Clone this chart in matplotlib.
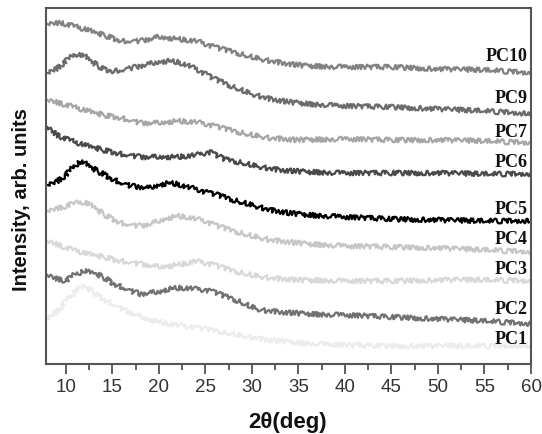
import numpy as np
import matplotlib
matplotlib.use("Agg")
import matplotlib.pyplot as plt
from matplotlib.ticker import MultipleLocator

# XRD patterns, values (arb. units, already stacked)
tth_pc10 = [8, 9.5, 12, 14, 16, 18, 20, 22, 24, 26, 28, 30, 32, 34, 36, 40, 45, 50, 55, 60]
int_pc10 = [340, 341, 335, 329, 323, 323, 327, 325, 323, 317, 312, 307, 303, 300, 298, 297, 297, 295, 294, 291]

tth_pc9 = [8, 9, 10, 11, 12, 13, 14, 15, 16, 17, 18, 19, 20, 21, 22, 23, 24, 25, 26, 28, 30, 32, 34, 36, 40, 45, 50, 55, 60]
int_pc9 = [291, 295, 303, 310, 308, 301, 295, 293, 294, 296, 298, 300, 302, 303, 302, 299, 295, 290, 285, 277, 270, 265, 262, 260, 258, 257, 255, 253, 250]

tth_pc7 = [8, 10, 12, 14, 16, 18, 20, 22, 24, 26, 28, 30, 32, 35, 40, 45, 50, 55, 60]
int_pc7 = [264, 259, 254, 249, 246, 241, 241, 243, 242, 238, 233, 229, 226, 224, 225, 224, 224, 223, 221]

tth_pc6 = [8, 9, 10, 11, 12, 14, 16, 18, 20, 22, 24, 25.5, 27, 29, 31, 33, 36, 40, 45, 50, 55, 60]
int_pc6 = [237, 229, 225, 222, 219, 214, 210, 207, 207, 207, 209, 212, 205, 201, 197, 194, 192, 191, 191, 191, 190, 190]

tth_pc5 = [8, 9, 10, 11, 11.5, 12, 13, 14, 15, 16, 17, 18, 19, 20, 21, 22, 23, 24, 25, 26, 28, 30, 32, 34, 36, 40, 45, 50, 55, 60]
int_pc5 = [179, 182, 189, 199, 202, 201, 195, 190, 185, 181, 178, 177, 176, 179, 181, 180, 177, 175, 172, 170, 164, 159, 154, 151, 149, 147, 145, 144, 143, 143]

tth_pc4 = [8, 9, 10, 11, 12, 13, 14, 15, 16, 17, 18, 19, 20, 21, 22, 23, 24, 25, 26, 28, 30, 32, 34, 36, 40, 45, 50, 55, 60]
int_pc4 = [153, 155, 158, 161, 162, 157, 150, 145, 141, 139, 138, 140, 143, 146, 148, 147, 145, 143, 139, 133, 128, 124, 122, 120, 118, 117, 116, 114, 112]

tth_pc3 = [8, 10, 12, 14, 16, 18, 20, 22, 24, 26, 28, 30, 32, 35, 40, 45, 50, 55, 60]
int_pc3 = [123, 116, 111, 107, 103, 100, 97, 99, 103, 99, 93, 89, 86, 84, 83, 83, 84, 84, 83]

tth_pc2 = [8, 9, 10, 11, 12, 13, 14, 15, 16, 17, 18, 19, 20, 21, 22, 23, 24, 25, 26, 27, 28, 29, 30, 31, 33, 36, 40, 45, 50, 55, 60]
int_pc2 = [89, 85, 83, 90, 93, 91, 87, 81, 77, 73, 70, 71, 72, 75, 76, 76, 75, 74, 72, 68, 65, 61, 57, 54, 52, 50, 49, 47, 45, 43, 40]

tth_pc1 = [8, 9, 10, 11, 11.8, 12.5, 14, 16, 18, 20, 22, 25, 28, 31, 35, 40, 45, 50, 55, 60]
int_pc1 = [45, 52, 63, 73, 78, 75, 65, 55, 47, 42, 39, 35, 30, 25, 21, 19, 18, 18, 18, 18]

names = ["PC10", "PC9", "PC7", "PC6", "PC5", "PC4", "PC3", "PC2", "PC1"]
label_y = [308, 266, 232, 202, 155, 125, 95, 55, 25]

series = [(tth_pc10, int_pc10), (tth_pc9, int_pc9), (tth_pc7, int_pc7),
          (tth_pc6, int_pc6), (tth_pc5, int_pc5), (tth_pc4, int_pc4),
          (tth_pc3, int_pc3), (tth_pc2, int_pc2), (tth_pc1, int_pc1)]
colors = ["#828282", "#6c6c6c", "#a6a6a6", "#4a4a4a", "#000000",
          "#c6c6c6", "#d8d8d8", "#727272", "#ececec"]

fig = plt.figure(figsize=(5.42, 4.35), dpi=100)
ax = fig.add_axes([46 / 542, 1 - 365 / 435, (531 - 46) / 542, (365 - 9) / 435])

for (x, y), c in zip(series, colors):
    line, = ax.plot(x, y, color=c, lw=1.6)
    # jagged look of the raw scans
    line.set_sketch_params(scale=2.4, length=2.0, randomness=14)

for n, ly in zip(names, label_y):
    ax.text(59.6, ly, n, ha="right", va="center", fontsize=13,
            fontweight="bold", family="Liberation Serif", color="#111111")

ax.set_xlim(7.85, 60)
ax.set_ylim(0, 356)
ax.xaxis.set_major_locator(MultipleLocator(5))
ax.xaxis.set_minor_locator(MultipleLocator(2.5))
ax.set_xticks(np.arange(10, 61, 5))
ax.set_yticks([])
ax.tick_params(axis="x", which="major", direction="out", length=7, width=1.2,
               color="#444444", labelsize=13.5, labelcolor="#333333", pad=3)
ax.tick_params(axis="x", which="minor", direction="out", length=4, width=1.2,
               color="#444444")
for lab in ax.get_xticklabels():
    lab.set_family("Liberation Sans")
for s in ax.spines.values():
    s.set_color("#555555")
    s.set_linewidth(1.5)

fig.text(288 / 542, 1 - 423 / 435, "2\u03b8(deg)", ha="center", va="center",
         fontsize=16, fontweight="bold", family="Liberation Sans", color="#111111")
fig.text(22 / 542, 1 - 200 / 435, "Intensity, arb. units", ha="center", va="center",
         rotation=90, fontsize=14.5, fontweight="bold", family="Liberation Sans",
         color="#111111")

fig.savefig("out.png", dpi=100)
